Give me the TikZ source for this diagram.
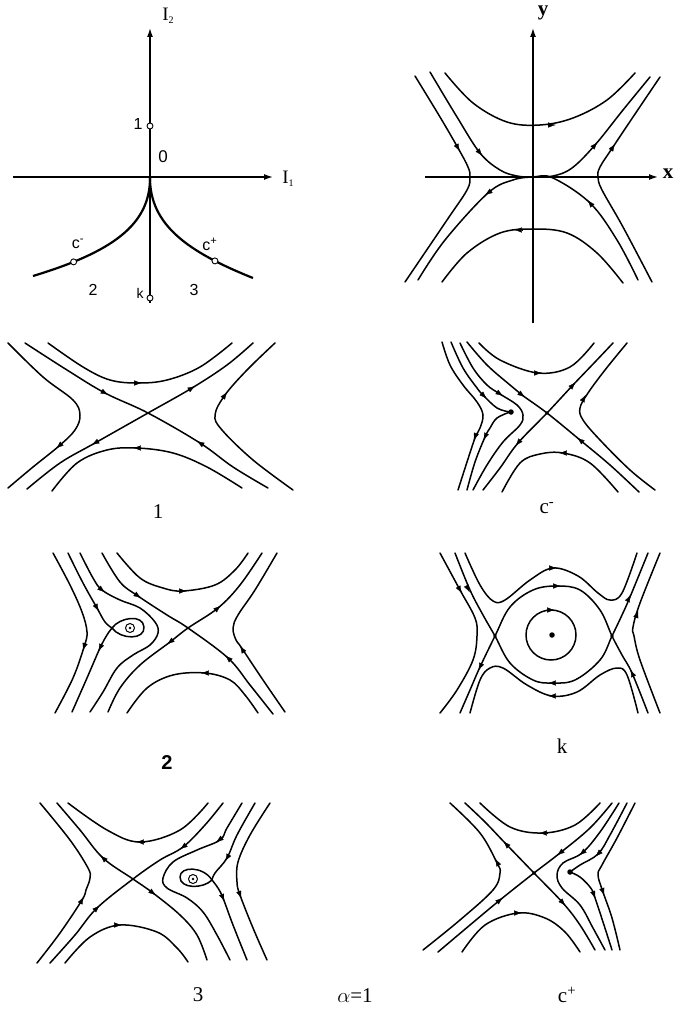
\documentclass[tikz,border=0pt]{standalone}
\usepackage{fontspec}
\setmainfont{Liberation Serif}
\setsansfont{Liberation Sans}
\usetikzlibrary{arrows.meta,calc}
\tikzset{
  flow/.style={line width=1.5pt, line cap=round, line join=round},
  fatip/.style={-{Latex[length=7.5pt,width=5.2pt]}, line width=0.3pt},
  axisln/.style={line width=1.4pt, -{Latex[length=9pt,width=6pt]}},
  opendot/.style={circle, draw, fill=white, inner sep=0pt, minimum size=6pt, line width=0.9pt},
  fdot/.style={circle, fill, inner sep=0pt, minimum size=5.5pt},
  sdot/.style={circle, fill, inner sep=0pt, minimum size=3.6pt},
  lbl/.style={font=\fontsize{21}{21}\selectfont, inner sep=0pt},
  slbl/.style={font=\sffamily\fontsize{16}{16}\selectfont, inner sep=0pt},
}
\newcommand\fa[2]{\draw[fatip] ($(#1)+(#2+180:3.7)$) -- ($(#1)+(#2:3.7)$);}
\begin{document}
\begin{tikzpicture}[x=1pt,y=-1pt]
\useasboundingbox (0,0) rectangle (677,1014);

% ---------------- Panel: parameter plane ----------------
\draw[axisln] (150,303) -- (150,28);
\draw[axisln] (13,177) -- (273,177);
\draw[line width=2.2pt] (150,178) .. controls (150,225) and (112,252) .. (33,276) node[pos=0.81, opendot] (cm) {};
\draw[line width=2.2pt] (150,178) .. controls (150,225) and (188,252) .. (253,278) node[pos=0.785, opendot] (cp) {};
\node[opendot] (p1) at (150,126) {};
\node[opendot] (pk) at (150,298) {};
\node[font=\fontsize{19}{19}\selectfont, inner sep=0pt] (I2) at (168,16) {I\raisebox{-0.35ex}{\fontsize{10}{10}\selectfont 2}};
\node[font=\fontsize{19}{19}\selectfont, inner sep=0pt] (I1) at (288,179) {I\raisebox{-0.35ex}{\fontsize{10}{10}\selectfont 1}};
\node[slbl] (l1) at (138,124) {1};
\node[slbl, font=\sffamily\fontsize{17}{17}\selectfont] (l0) at (163,157) {0};
\node[slbl] (lcm) at (78,244) {c\textsuperscript{-}};
\node[slbl] (lcp) at (210,244) {c\textsuperscript{+}};
\node[slbl] (l2) at (93,290) {2};
\node[slbl, font=\sffamily\fontsize{14}{14}\selectfont] (lk) at (140,293) {k};
\node[slbl] (l3) at (194,290) {3};

% ---------------- Panel: x-y ----------------
\draw[axisln] (533,323) -- (533,28);
\draw[axisln] (425,177) -- (658,177);
\node[font=\bfseries\fontsize{21}{21}\selectfont, inner sep=0pt] (ly) at (543,13) {y};
\node[font=\bfseries\fontsize{21}{21}\selectfont, inner sep=0pt] (lx) at (668,174) {x};
\draw[flow] plot[smooth, tension=0.6] coordinates {(445,73) (473,103) (507,122) (540,125) (573,118) (607,100) (635,73)};
\fa{552,125}{0}
\draw[flow] plot[smooth, tension=0.6] coordinates {(442,282) (467,253) (500,233) (533,229) (567,233) (597,253) (623,283)};
\fa{518,230}{180}
\draw[flow] plot[smooth, tension=0.6] coordinates {(430,72) (457,117) (480,153) (500,170) (517,176) (533,177) (553,176) (572,168) (595,145) (623,110) (650,77)};
\fa{480,153}{51}
\fa{595,145}{-49}
\draw[flow] plot[smooth, tension=0.6] coordinates {(418,280) (445,240) (488,193) (513,180) (533,177) (553,178) (590,203) (617,240) (638,280)};
\fa{488,193}{145}
\fa{590,203}{-130}
\draw[flow] plot[smooth, tension=0.6] coordinates {(415,76) (440,117) (458,148) (468,167) (470,177) (467,190) (447,220) (405,282)};
\fa{458,148}{61}
\draw[flow] plot[smooth, tension=0.6] coordinates {(660,77) (633,117) (613,147) (600,167) (598,177) (602,190) (623,227) (652,282)};
\fa{613,147}{-57}

% ---------------- Panel 1 ----------------
\draw[flow] plot[smooth, tension=0.6] coordinates {(48,343) (83,367) (110,380) (138,383) (167,380) (200,367) (232,343)};
\fa{138,383}{0}
\draw[flow] plot[smooth, tension=0.6] coordinates {(52,491) (77,463) (107,450) (137,448) (173,453) (207,467) (242,488)};
\fa{137,448}{180}
\draw[flow] plot[smooth, tension=0.6] coordinates {(25,343) (67,370) (105,393) (148,413) (200,443) (233,467) (268,488)};
\fa{105,393}{28}
\fa{200,443}{-148}
\draw[flow] plot[smooth, tension=0.6] coordinates {(27,489) (60,463) (95,443) (148,413) (192,388) (227,365) (253,343)};
\fa{95,443}{150}
\fa{192,388}{-31}
\draw[flow] plot[smooth, tension=0.6] coordinates {(8,343) (43,377) (73,400) (80,415) (75,430) (59,446) (33,467) (8,488)};
\fa{59,446}{139}
\draw[flow] plot[smooth, tension=0.6] coordinates {(275,343) (247,370) (225,395) (215,415) (222,430) (253,460) (293,490)};
\fa{225,395}{-55}
\node[lbl] (t1) at (158,512) {1};

% ---------------- Panel c- ----------------
\draw[flow] plot[smooth, tension=0.6] coordinates {(479,343) (500,360) (538,373) (570,367) (594,343)};
\fa{538,373}{0}
\draw[flow] plot[smooth, tension=0.6] coordinates {(502,492) (520,463) (540,454) (563,453) (590,463) (618,492)};
\fa{563,453}{180}
\draw[flow] plot[smooth, tension=0.6] coordinates {(467,342) (487,365) (510,385) (522,395) (547,413) (580,440) (610,465) (639,492)};
\fa{522,395}{37}
\fa{580,440}{-141}
\draw[flow] plot[smooth, tension=0.6] coordinates {(483,490) (500,468) (518,443) (547,413) (573,385) (595,362) (613,343)};
\fa{518,443}{130}
\fa{573,385}{-47}
\draw[flow] plot[smooth, tension=0.6] coordinates {(627,343) (605,370) (588,393) (580,408) (583,420) (600,440) (630,470) (655,490)};
\fa{584,398}{-62}
\draw[flow] plot[smooth, tension=0.6] coordinates {(442,342) (450,365) (463,385) (477,402) (483,415) (480,428) (475,438) (467,462) (458,490)};
\fa{475,437}{111}
\draw[flow] plot[smooth, tension=0.6] coordinates {(451,342) (463,368) (477,388) (483,395) (497,408) (510,412)};
\fa{484,396}{45}
\draw[flow] plot[smooth, tension=0.6] coordinates {(510,412) (497,418) (490,428) (485,437) (475,462) (467,490)};
\fa{485,437}{114}
\draw[flow] plot[smooth, tension=0.6] coordinates {(460,343) (473,368) (487,385) (500,394) (517,405) (523,415) (520,425) (503,442) (487,465) (473,490)};
\fa{500,394}{34}
\node[fdot] (dcm) at (511,412) {};
\node[sdot] (scm) at (547,413) {};
\node[lbl] (tcm) at (547,508) {c\textsuperscript{-}};

% ---------------- Panel 2 ----------------
\draw[flow] plot[smooth, tension=0.6] coordinates {(53,553) (70,585) (82,612) (87,632) (84,647) (73,678) (55,713)};
\fa{84,647}{107}
\draw[flow] plot[smooth, tension=0.6] coordinates {(68,553) (83,583) (97,608) (105,622) (112,628)};
\fa{97,608}{61}
\draw[flow] (112,628) .. controls (120,617) and (143,614) .. (144,627) .. controls (145,640) and (121,640) .. (112,628);
\draw[flow] plot[smooth, tension=0.6] coordinates {(112,628) (107,635) (100,648) (87,678) (72,712)};
\fa{100,648}{115}
\draw[line width=1pt] (130,628) circle[radius=4.5pt];
\fill (130,628) circle[radius=1.4pt];
\draw[flow] plot[smooth, tension=0.6] coordinates {(80,553) (93,578) (102,590) (120,600) (140,608) (155,622) (158,633) (150,645) (133,655) (117,668) (103,692) (90,712)};
\fa{102,590}{39}
\draw[flow] plot[smooth, tension=0.6] coordinates {(102,553) (120,582) (138,596) (167,615) (188,628) (228,658) (250,685) (273,714)};
\fa{138,596}{35}
\fa{228,658}{-137}
\draw[flow] plot[smooth, tension=0.6] coordinates {(117,553) (140,578) (163,588) (183,591) (215,585) (235,570) (248,553)};
\fa{183,591}{0}
\draw[flow] plot[smooth, tension=0.6] coordinates {(108,712) (120,688) (140,665) (170,642) (188,628) (218,608) (240,585) (262,553)};
\fa{170,642}{142}
\fa{218,608}{-40}
\draw[flow] plot[smooth, tension=0.6] coordinates {(127,713) (147,688) (173,675) (205,673) (230,680) (245,695) (258,713)};
\fa{205,673}{180}
\draw[flow] plot[smooth, tension=0.6] coordinates {(277,553) (255,590) (238,615) (233,628) (236,640) (241,647) (263,680) (285,712)};
\fa{242,649}{-122}
\node[font=\sffamily\bfseries\fontsize{20}{20}\selectfont, inner sep=0pt] (t2) at (167,763) {2};

% ---------------- Panel k ----------------
\draw[flow] plot[smooth, tension=0.6] coordinates {(455,553) (470,590) (483,615) (495,636) (510,663) (533,680) (552,683) (575,680) (600,660) (612,636) (622,615) (630,597) (648,553)};
\fa{468,589}{63}
\fa{552,683}{180}
\fa{629,598}{-65}
\draw[flow] plot[smooth, tension=0.6] coordinates {(460,713) (470,690) (480,667) (495,636) (510,607) (533,590) (557,586) (580,590) (600,610) (612,636) (622,655) (632,673) (648,713)};
\fa{480,667}{115}
\fa{557,586}{0}
\fa{632,673}{-115}
\draw[flow] plot[smooth, tension=0.6] coordinates {(440,553) (460,590) (475,618) (477,636) (473,660) (457,690) (440,713)};
\fa{460,590}{60}
\draw[flow] plot[smooth, tension=0.6] coordinates {(660,553) (640,603) (633,627) (634,636) (640,660) (660,713)};
\fa{637,614}{-72}
\draw[flow] plot[smooth, tension=0.6] coordinates {(465,553) (480,585) (493,601) (505,600) (530,580) (553,568) (578,576) (598,593) (610,600) (622,593) (637,553)};
\fa{553,568}{0}
\draw[flow] plot[smooth, tension=0.6] coordinates {(470,713) (480,680) (490,668) (503,668) (527,685) (552,696) (577,692) (600,675) (617,668) (627,675) (638,713)};
\fa{552,696}{180}
\draw[flow] (551,635) circle[radius=25pt];
\fa{551,610}{0}
\node[fdot] (ck) at (552,635) {};
\node[sdot] (kL) at (495,636) {};
\node[sdot] (kR) at (612,636) {};
\node[lbl] (tk) at (562,746) {k};

% ---------------- Panel 3 ----------------
\draw[flow] plot[smooth, tension=0.6] coordinates {(40,803) (70,840) (88,868) (90,878) (86,890) (82,900) (60,933) (37,963)};
\fa{82,900}{-61}
\draw[flow] plot[smooth, tension=0.6] coordinates {(57,803) (80,830) (103,858) (133,879) (153,893) (180,915) (197,935) (207,960)};
\fa{103,858}{-137}
\fa{153,893}{37}
\draw[flow] plot[smooth, tension=0.6] coordinates {(50,963) (75,935) (97,908) (133,879) (160,860) (183,847) (205,825) (223,803)};
\fa{97,908}{-44}
\fa{183,847}{143}
\draw[flow] plot[smooth, tension=0.6] coordinates {(68,803) (107,830) (140,842) (180,830) (208,803)};
\fa{140,842}{180}
\draw[flow] plot[smooth, tension=0.6] coordinates {(65,963) (90,937) (120,925) (157,932) (177,948) (188,962)};
\fa{118,925}{0}
\draw[flow] plot[smooth, tension=0.6] coordinates {(242,803) (227,828) (220,840) (197,850) (173,862) (163,878) (167,888) (187,898) (203,912) (217,935) (230,960)};
\fa{219,840}{144}
\draw[flow] plot[smooth, tension=0.6] coordinates {(255,803) (237,835) (227,858) (215,873) (212,880)};
\fa{227,858}{120}
\draw[flow] (212,880) .. controls (203,866) and (180,866) .. (180,877) .. controls (180,889) and (203,889) .. (212,880);
\draw[flow] plot[smooth, tension=0.6] coordinates {(212,880) (218,888) (223,898) (233,925) (247,960)};
\fa{223,898}{68}
\draw[line width=1pt] (193,879) circle[radius=4.5pt];
\fill (193,879) circle[radius=1.4pt];
\draw[flow] plot[smooth, tension=0.6] coordinates {(270,803) (250,835) (238,862) (237,882) (240,895) (253,928) (267,960)};
\fa{240,895}{71}
\node[lbl] (t3) at (198,995) {3};
\node[lbl] (talpha) at (355,996) {$\alpha$=1};

% ---------------- Panel c+ ----------------
\draw[flow] plot[smooth, tension=0.6] coordinates {(480,803) (510,827) (543,833) (575,825) (600,803)};
\fa{543,833}{180}
\draw[flow] plot[smooth, tension=0.6] coordinates {(465,803) (485,822) (506,844) (534,873) (563,903) (580,925) (595,950)};
\fa{506,844}{-134}
\fa{563,903}{48}
\draw[flow] plot[smooth, tension=0.6] coordinates {(438,952) (470,925) (500,900) (534,873) (560,853) (590,828) (612,803)};
\fa{500,900}{-39}
\fa{560,853}{141}
\draw[flow] plot[smooth, tension=0.6] coordinates {(450,803) (480,833) (497,863) (500,873) (493,890) (460,920) (423,950)};
\fa{497,862}{-117}
\draw[flow] plot[smooth, tension=0.6] coordinates {(462,952) (485,925) (518,913) (545,918) (565,932) (580,952)};
\fa{518,913}{0}
\draw[flow] plot[smooth, tension=0.6] coordinates {(619,803) (600,832) (582,853) (563,863) (557,875) (562,888) (580,905) (593,928) (605,950)};
\fa{582,853}{140}
\draw[flow] plot[smooth, tension=0.6] coordinates {(627,803) (610,835) (598,854) (580,865) (570,872)};
\fa{598,854}{135}
\draw[flow] plot[smooth, tension=0.6] coordinates {(570,872) (580,877) (590,887) (594,895) (603,922) (612,950)};
\fa{594,895}{70}
\draw[flow] plot[smooth, tension=0.6] coordinates {(635,803) (617,838) (602,865) (598,875) (603,892) (612,918) (620,950)};
\fa{603,892}{72}
\node[fdot] (dcp) at (570,872) {};
\node[sdot] (scp) at (534,873) {};
\node[lbl] (tcp) at (567,995) {c\textsuperscript{+}};

\end{tikzpicture}
\end{document}
